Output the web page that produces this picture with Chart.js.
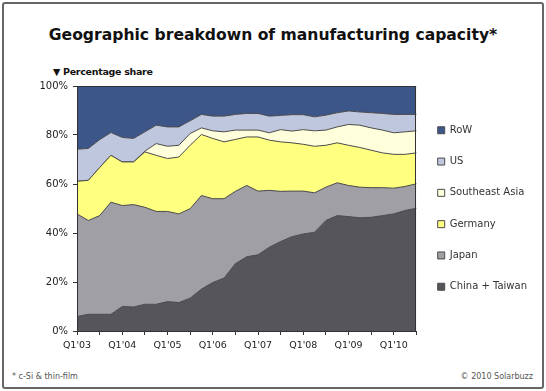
<!DOCTYPE html>
<html>
<head>
<meta charset="utf-8">
<title>Geographic breakdown of manufacturing capacity</title>
<script src="https://cdn.jsdelivr.net/npm/chart.js@4.4.1/dist/chart.umd.min.js"></script>
<style>
    html, body { margin: 0; padding: 0; background: #fff; }
    body { width: 546px; height: 391px; position: relative; overflow: hidden; font-family: "DejaVu Sans", Verdana, sans-serif; }
    .frame { position: absolute; left: 2px; top: 2px; width: 538px; height: 383px; border: 2px solid #666; border-radius: 3px; }
    .title { position: absolute; left: 0; width: 546px; top: 26px; text-align: center; font-size: 15.6px; font-weight: bold; color: #111; }
    .subtitle { position: absolute; left: 53px; top: 66px; font-size: 9.5px; font-weight: bold; letter-spacing: -0.3px; color: #111; }
    .note { position: absolute; top: 372px; font-size: 8px; color: #555; }
    #chart-box { position: absolute; left: 0; top: 60px; width: 546px; height: 300px; }
</style>
</head>
<body>
<div class="frame"></div>
<div class="title">Geographic breakdown of manufacturing capacity*</div>
<div class="subtitle">▼ Percentage share</div>
<div id="chart-box"><canvas id="capacity-chart"></canvas></div>
<div class="note" style="left: 12px;">* c-Si &amp; thin-film</div>
<div class="note" style="right: 13px;">© 2010 Solarbuzz</div>

<script>
// Quarters Q1'03 .. Q3'10
const quarters = [
    "Q1'03", "Q2'03", "Q3'03", "Q4'03", "Q1'04", "Q2'04", "Q3'04", "Q4'04",
    "Q1'05", "Q2'05", "Q3'05", "Q4'05", "Q1'06", "Q2'06", "Q3'06", "Q4'06",
    "Q1'07", "Q2'07", "Q3'07", "Q4'07", "Q1'08", "Q2'08", "Q3'08", "Q4'08",
    "Q1'09", "Q2'09", "Q3'09", "Q4'09", "Q1'10", "Q2'10", "Q3'10"
];

// Share of capacity in %
const chinaTaiwan = [5.9, 6.8, 6.8, 6.8, 10.0, 9.8, 10.9, 10.9, 12.0, 11.6, 13.4, 17.1, 19.8, 21.6, 27.5, 30.3,
    31.1, 34.2, 36.5, 38.5, 39.6, 40.3, 45.1, 47.1, 46.7, 46.2, 46.4, 47.1, 47.8, 49.2, 50.1];
const japan = [41.9, 38.3, 40.3, 45.8, 41.2, 41.8, 39.6, 37.9, 36.8, 36.2, 36.5, 38.2, 34.2, 32.4, 29.5, 29.1,
    26.0, 23.2, 20.5, 18.6, 17.5, 16.1, 13.6, 13.4, 12.7, 12.5, 12.1, 11.4, 10.5, 9.8, 10.0];
const germany = [13.3, 16.4, 19.6, 19.1, 17.8, 17.4, 22.6, 22.9, 21.6, 23.2, 25.9, 24.9, 24.6, 23.2, 21.2, 19.8,
    22.1, 20.5, 20.2, 19.7, 19.1, 19.0, 17.1, 16.3, 16.4, 16.2, 15.3, 14.2, 13.8, 13.1, 12.6];
const southeastAsia = [0, 0, 0, 0, 0, 0, 0.3, 4.8, 5.0, 4.8, 4.8, 2.7, 3.1, 4.1, 3.8, 2.8,
    2.8, 3.0, 5.0, 4.8, 6.0, 6.3, 6.2, 6.5, 8.5, 9.1, 9.1, 9.3, 8.8, 9.2, 9.0];
const us = [13.1, 13.0, 11.4, 9.3, 10.0, 9.6, 7.9, 7.5, 7.9, 7.5, 5.2, 5.5, 6.0, 6.4, 6.4, 6.8,
    6.8, 6.8, 5.8, 6.7, 6.1, 5.7, 6.1, 5.8, 5.5, 5.4, 6.2, 6.8, 7.5, 7.1, 6.7];
const row = [25.8, 25.5, 21.9, 19.0, 21.0, 21.4, 18.7, 16.0, 16.7, 16.7, 14.2, 11.6, 12.3, 12.3, 11.6, 11.2,
    11.2, 12.3, 12.0, 11.7, 11.7, 12.6, 11.9, 10.9, 10.2, 10.6, 10.9, 11.2, 11.6, 11.6, 11.6];

const yTicks = [0, 20, 40, 60, 80, 100];

const edge = '#4a4a4a';

function area(label, data, color, fill) {
    return {
        label: label,
        data: data,
        backgroundColor: color,
        borderColor: edge,
        borderWidth: 1,
        pointRadius: 0,
        tension: 0,
        fill: fill
    };
}

// plot area frame (top + right edge like the original)
const plotFrame = {
    id: 'plotFrame',
    afterDatasetsDraw(chart) {
        const a = chart.chartArea;
        const ctx = chart.ctx;
        ctx.save();
        ctx.strokeStyle = '#333';
        ctx.lineWidth = 1;
        ctx.strokeRect(Math.round(a.left) + 0.5, Math.round(a.top) + 0.5, Math.round(a.right - a.left) - 1, Math.round(a.bottom - a.top));
        ctx.restore();
    }
};

document.addEventListener('DOMContentLoaded', () => {
    const ctx = document.getElementById('capacity-chart').getContext('2d');

    new Chart(ctx, {
        type: 'line',
        data: {
            labels: quarters,
            datasets: [
                area('China + Taiwan', chinaTaiwan, '#56555b', 'origin'),
                area('Japan', japan, '#a09fa6', '-1'),
                area('Germany', germany, '#ffff80', '-1'),
                area('Southeast Asia', southeastAsia, '#ffffdc', '-1'),
                area('US', us, '#bfc7df', '-1'),
                area('RoW', row, '#3d5689', '-1')
            ]
        },
        options: {
            responsive: true,
            maintainAspectRatio: false,
            animation: false,
            layout: {
                padding: { left: 39, right: 9, top: 26, bottom: 3.6 }
            },
            plugins: {
                legend: {
                    position: 'right',
                    fullSize: false,
                    reverse: true,
                    labels: {
                        boxWidth: 7,
                        boxHeight: 7,
                        padding: 21.3,
                        color: '#333',
                        font: { family: 'DejaVu Sans', size: 10 }
                    }
                },
                tooltip: { enabled: false }
            },
            scales: {
                x: {
                    grid: {
                        drawOnChartArea: false,
                        tickLength: 4,
                        tickColor: (c) => (c.index % 2 === 0 ? '#333' : 'rgba(0,0,0,0)')
                    },
                    border: { color: '#333' },
                    ticks: {
                        autoSkip: false,
                        maxRotation: 0,
                        padding: 5,
                        color: '#222',
                        font: { family: 'DejaVu Sans', size: 9.5 },
                        callback: function (value, index) {
                            const l = this.getLabelForValue(value);
                            return l.startsWith('Q1') ? l : '';
                        }
                    }
                },
                y: {
                    stacked: true,
                    min: 0,
                    max: 100,
                    afterFit: (scale) => { scale.width = 38; },
                    afterBuildTicks: (scale) => { scale.ticks = yTicks.map(v => ({ value: v })); },
                    grid: {
                        drawOnChartArea: false,
                        tickLength: 4,
                        tickColor: '#333'
                    },
                    border: { color: '#333' },
                    ticks: {
                        padding: 5,
                        color: '#222',
                        font: { family: 'DejaVu Sans', size: 10 },
                        callback: (v) => v + '%'
                    }
                }
            }
        },
        plugins: [plotFrame]
    });
});
</script>
</body>
</html>
